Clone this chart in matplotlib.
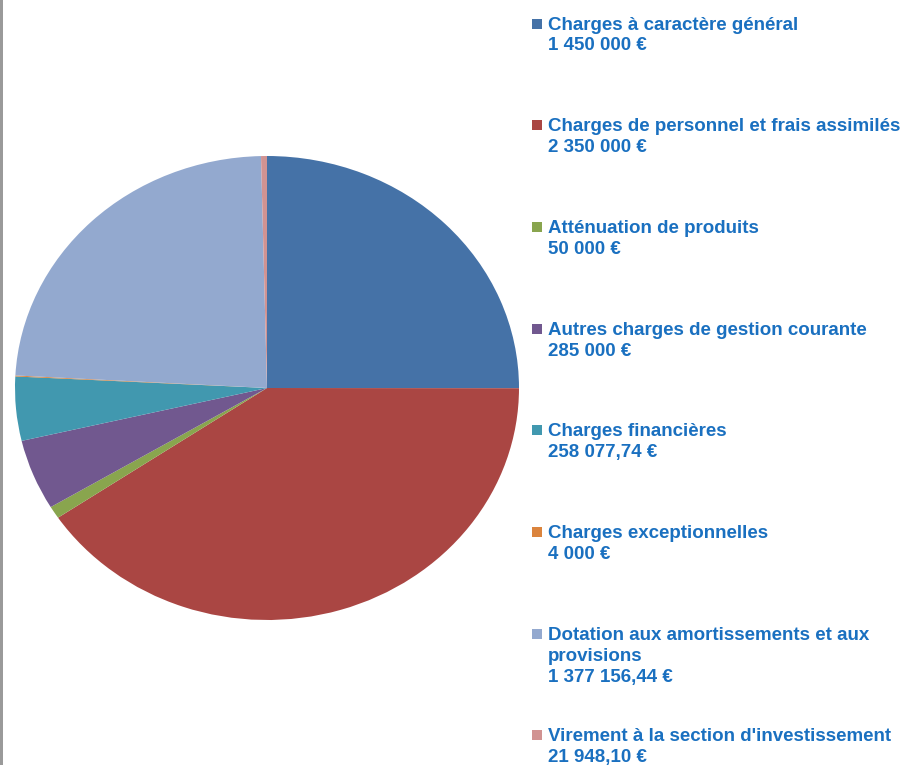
import matplotlib
matplotlib.use("Agg")
import matplotlib.pyplot as plt
from matplotlib.patches import Rectangle

labels = [
    "Charges à caractère général",
    "Charges de personnel et frais assimilés",
    "Atténuation de produits",
    "Autres charges de gestion courante",
    "Charges financières",
    "Charges exceptionnelles",
    "Dotation aux amortissements et aux\nprovisions",
    "Virement à la section d'investissement",
]
values = [1450000, 2350000, 50000, 285000, 258077.74, 4000, 1377156.44, 21948.10]
colors = ["#4572A7", "#AA4643", "#89A54E", "#71588F",
          "#4198AF", "#DB843D", "#93A9CF", "#D19392"]

TEXT_COLOR = "#1a70c0"


def fmt_euro(v):
    # french style: space thousands, comma decimals
    if float(v).is_integer():
        s = f"{int(v):,}".replace(",", " ")
    else:
        s = f"{v:,.2f}".replace(",", " ").replace(".", ",")
    return s + " €"


W, H = 906, 765
fig = plt.figure(figsize=(W / 100, H / 100), dpi=100)
plt.rcParams["font.family"] = ["Liberation Sans", "DejaVu Sans"]

# pie is slightly wider than tall in the reference
ax = fig.add_axes([15 / W, (H - 620) / H, 504 / W, 464 / H])
ax.pie(values, colors=colors, startangle=90, counterclock=False,
       wedgeprops=dict(linewidth=0))
ax.set_aspect("auto")
ax.set_xlim(-1, 1)
ax.set_ylim(-1, 1)
ax.axis("off")

# legend drawn by hand, one text per line so baselines are exact
first_base = 29.5
step = 101.7
line_h = 21
for i, (lab, val, c) in enumerate(zip(labels, values, colors)):
    y = first_base + i * step
    fig.add_artist(Rectangle((532 / W, 1 - (y - 1) / H), 10 / W, 10 / H,
                             transform=fig.transFigure, color=c, lw=0))
    lines = lab.split("\n") + [fmt_euro(val)]
    for k, line in enumerate(lines):
        fig.text(548 / W, 1 - (y + k * line_h) / H, line, ha="left",
                 va="baseline", fontsize=13.5, fontweight="bold",
                 color=TEXT_COLOR)

# grey frame edge at the left
fig.add_artist(Rectangle((0, 0), 3 / W, 1, transform=fig.transFigure,
                         color="#9a9a9a", lw=0))

fig.savefig("out.png", dpi=100)
